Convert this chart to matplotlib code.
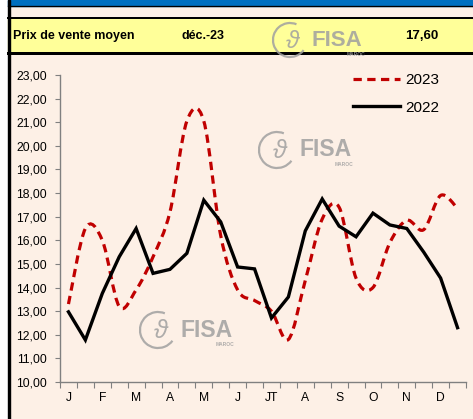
import matplotlib.pyplot as plt
from matplotlib.path import Path
from matplotlib.patches import PathPatch, Rectangle, Arc
from matplotlib.lines import Line2D

plt.rcParams['font.family'] = ['Liberation Sans', 'DejaVu Sans']

# data: two points per month
month_labels = ['J', 'F', 'M', 'A', 'M', 'J', 'JT', 'A', 'S', 'O', 'N', 'D']
v2023 = [13.3, 16.5, 16.0, 13.2, 13.9, 15.3, 17.2, 21.05, 21.05, 16.2, 13.9, 13.45,
         13.0, 11.8, 14.3, 16.9, 17.4, 14.4, 14.0, 15.9, 16.85, 16.45, 17.9, 17.35]
v2022 = [12.97, 11.78, 13.75, 15.3, 16.5, 14.6, 14.77, 15.45, 17.7, 16.78, 14.87, 14.79,
         12.71, 13.6, 16.4, 17.75, 16.6, 16.15, 17.15, 16.65, 16.5, 15.5, 14.4, 12.3]
header_label = 'Prix de vente moyen'
header_month = 'déc.-23'
header_value = '17,60'

W, H = 473, 419
PEACH = '#FDF0E6'
YELLOW = '#FFFF99'
BLUE = '#0070C0'
RED = '#C00000'
LOGO = '#A0A0A0'


def fx(x):
    return x / W


def fy(y):
    return 1 - y / H


def smooth_path(xs, ys):
    # Catmull-Rom style smoothing as cubic Bezier segments (like Excel smoothed lines)
    pts = list(zip(xs, ys))
    n = len(pts)
    verts = [pts[0]]
    codes = [Path.MOVETO]
    for i in range(n - 1):
        p0 = pts[max(i - 1, 0)]
        p1 = pts[i]
        p2 = pts[i + 1]
        p3 = pts[min(i + 2, n - 1)]
        c1 = (p1[0] + (p2[0] - p0[0]) / 6, p1[1] + (p2[1] - p0[1]) / 6)
        c2 = (p2[0] - (p3[0] - p1[0]) / 6, p2[1] - (p3[1] - p1[1]) / 6)
        verts += [c1, c2, p2]
        codes += [Path.CURVE4] * 3
    return Path(verts, codes)


fig = plt.figure(figsize=(W / 100, H / 100), dpi=100)
fig.patch.set_facecolor(PEACH)

# white strip on the left and black frame lines
fig.add_artist(Rectangle((0, 0), fx(8), 1, transform=fig.transFigure, color='white', zorder=0))
fig.add_artist(Rectangle((fx(8), fy(6)), 1, fy(0) - fy(6), transform=fig.transFigure,
                         color=BLUE, zorder=0))
fig.add_artist(Rectangle((fx(8), fy(53)), 1, fy(18) - fy(53), transform=fig.transFigure,
                         color=YELLOW, zorder=0))
fig.add_artist(Rectangle((fx(8), 0), fx(2), 1, transform=fig.transFigure, color='black', zorder=1))
for y0, lw in [(6.5, 1.3), (18, 2), (53.5, 3)]:
    fig.add_artist(Line2D([fx(8), 1], [fy(y0), fy(y0)], transform=fig.transFigure,
                          color='black', lw=lw * 0.72, zorder=1))

# header texts
fig.text(fx(13), fy(36), header_label, fontsize=9, fontweight='bold', va='center', zorder=3)
fig.text(fx(181), fy(36), header_month, fontsize=9, fontweight='bold', va='center', zorder=3)
fig.text(fx(405), fy(36), header_value, fontsize=9.5, fontweight='bold', va='center', zorder=3)


def draw_logo(parent, cx, cy, r, fs, z):
    parent.add_artist(Arc((fx(cx), fy(cy)), 2 * r / W, 2 * r / H, theta1=70, theta2=320,
                          transform=fig.transFigure, color=LOGO, lw=1.6, zorder=z, alpha=0.85))
    parent.text(fx(cx + 2), fy(cy + 1), 'ϑ', transform=fig.transFigure, fontsize=fs * 1.1,
                color=LOGO, style='italic', ha='center', va='center', zorder=z, alpha=0.85)
    parent.text(fx(cx + r + 4), fy(cy), 'FISA', transform=fig.transFigure, fontsize=fs,
                fontweight='bold', color=LOGO, ha='left', va='center', zorder=z, alpha=0.85)
    parent.text(fx(cx + r + 58), fy(cy + 14), 'MAROC', transform=fig.transFigure,
                fontsize=3.5, fontweight='bold', color=LOGO, ha='right', va='center',
                zorder=z, alpha=0.85)


draw_logo(fig, 290, 40, 17, 16, 3)

# main chart
ax = fig.add_axes([fx(60), fy(382), fx(466) - fx(60), fy(75) - fy(382)])
ax.set_facecolor(PEACH)
x = list(range(len(v2022)))

ax.add_patch(PathPatch(smooth_path(x, v2023), fill=False, edgecolor=RED, lw=2.3,
                       linestyle=(0, (2.6, 1.7)), zorder=3))
ax.plot(x, v2022, color='black', lw=2.4, zorder=4, solid_joinstyle='miter')

draw_logo(ax, 277, 150, 18, 16.5, 1)
draw_logo(ax, 158, 330, 18, 16.5, 1)

ax.set_xlim(-0.5, len(x) - 0.5)
ax.set_ylim(10, 23)
ax.set_yticks(range(10, 24))
ax.set_yticklabels([f'{v},00' for v in range(10, 24)], fontsize=8.7)
ax.set_xticks([i - 0.5 for i in range(len(x) + 1)])
ax.set_xticklabels([])
ax.set_xticks(list(range(0, len(x), 2)), minor=True)
ax.set_xticklabels(month_labels, minor=True, fontsize=8.7)
ax.tick_params(axis='x', which='major', length=4, color='#808080', direction='out')
ax.tick_params(axis='x', which='minor', length=0, pad=7)
ax.tick_params(axis='y', length=3.5, color='#808080', pad=6)
for s in ['top', 'right']:
    ax.spines[s].set_visible(False)
for s in ['left', 'bottom']:
    ax.spines[s].set_color('#808080')
    ax.spines[s].set_linewidth(1)

handles = [Line2D([], [], color=RED, lw=2.3, linestyle=(0, (2.6, 1.7))),
           Line2D([], [], color='black', lw=2.4)]
ax.legend(handles, ['2023', '2022'], loc='upper left', bbox_to_anchor=(fx(353), fy(73)),
          bbox_transform=fig.transFigure, frameon=False, fontsize=11, handlelength=3.1,
          handletextpad=0.3, labelspacing=0.9, borderpad=0, borderaxespad=0)

plt.savefig('out.png', dpi=100, facecolor=fig.get_facecolor())
